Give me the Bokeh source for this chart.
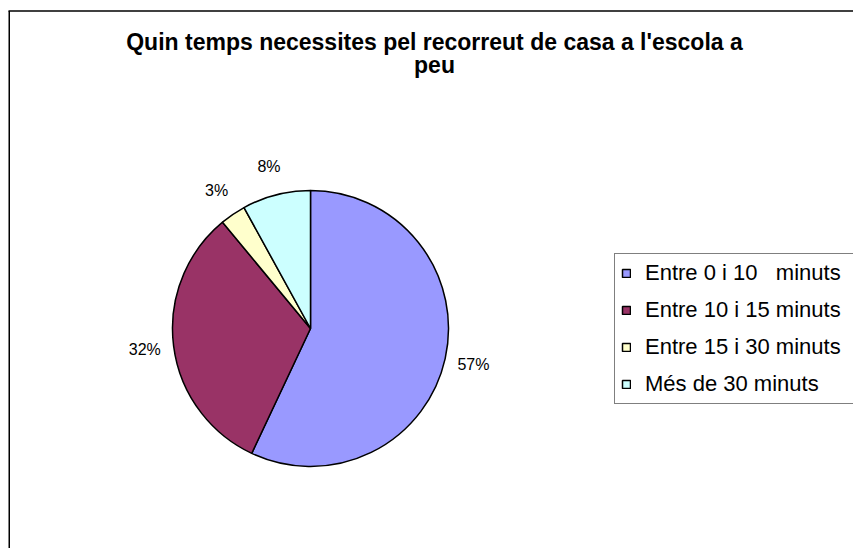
import math
from bokeh.plotting import figure
from bokeh.models import Range1d, Legend, LegendItem, ColumnDataSource
from bokeh.core.properties import value
from bokeh.embed import file_html
from bokeh.resources import INLINE

# ---- data ----
title_lines = ["Quin temps necessites pel recorreut de casa a l'escola a", "peu"]
categories = ["Entre 0 i 10   minuts", "Entre 10 i 15 minuts", "Entre 15 i 30 minuts", "Més de 30 minuts"]
percents = [57, 32, 3, 8]
colors = ["#9999FF", "#993366", "#FFFFCC", "#CCFFFF"]

# ---- layout (figure pixel coordinates, y up) ----
W, H = 853, 548
CX, CY, R = 310, 220, 138
LABEL_R = 167

total = float(sum(percents))
starts, ends, lx, ly, ltxt = [], [], [], [], []
cum = 0.0
for v in percents:
    a0 = math.pi / 2 - 2 * math.pi * cum / total
    cum += v
    a1 = math.pi / 2 - 2 * math.pi * cum / total
    starts.append(a0)
    ends.append(a1)
    mid = (a0 + a1) / 2
    lx.append(CX + LABEL_R * math.cos(mid))
    ly.append(CY + LABEL_R * math.sin(mid))
    ltxt.append(f"{v}%")

src = ColumnDataSource(dict(start=starts, end=ends, color=colors, label=categories,
                            x=[CX] * len(percents), y=[CY] * len(percents)))

p = figure(width=W, height=H, output_backend="svg", toolbar_location=None,
           x_range=Range1d(0, W), y_range=Range1d(0, H), min_border=0)
p.axis.visible = False
p.grid.visible = False
p.outline_line_color = None
p.background_fill_color = "white"
p.border_fill_color = "white"

# chart area border (top and left edges visible)
p.segment(x0=[8], y0=[H - 10.5], x1=[W], y1=[H - 10.5], line_color="#404040", line_width=2)
p.segment(x0=[8.75], y0=[0], x1=[8.75], y1=[H - 10.5], line_color="black", line_width=1.5)

wedges = p.wedge(x="x", y="y", radius=R, start_angle="start", end_angle="end",
                 direction="clock", fill_color="color", line_color="black",
                 line_width=1.5, source=src)

p.text(x=lx, y=ly, text=ltxt, text_font=value("Liberation Sans"), text_font_size="16px",
       text_align="center", text_baseline="middle", text_color="black")

p.text(x=[434, 434], y=[507, 484], text=title_lines, text_font=value("Liberation Sans"),
       text_font_size="23px", text_font_style="bold", text_align="center",
       text_baseline="middle", text_color="black")

items = [LegendItem(label=categories[i], renderers=[wedges], index=i) for i in range(len(categories))]
legend = Legend(items=items, location=(614, 144), orientation="vertical",
                label_text_font="Liberation Sans", label_text_font_size="22px",
                label_text_color="black",
                glyph_width=10, glyph_height=10, label_height=26, label_width=220,
                label_standoff=14, spacing=11, padding=6, margin=0,
                border_line_color="black", border_line_width=1,
                background_fill_color="white", background_fill_alpha=1.0)
p.add_layout(legend, "center")

open("out.html", "w").write(file_html(p, INLINE))
